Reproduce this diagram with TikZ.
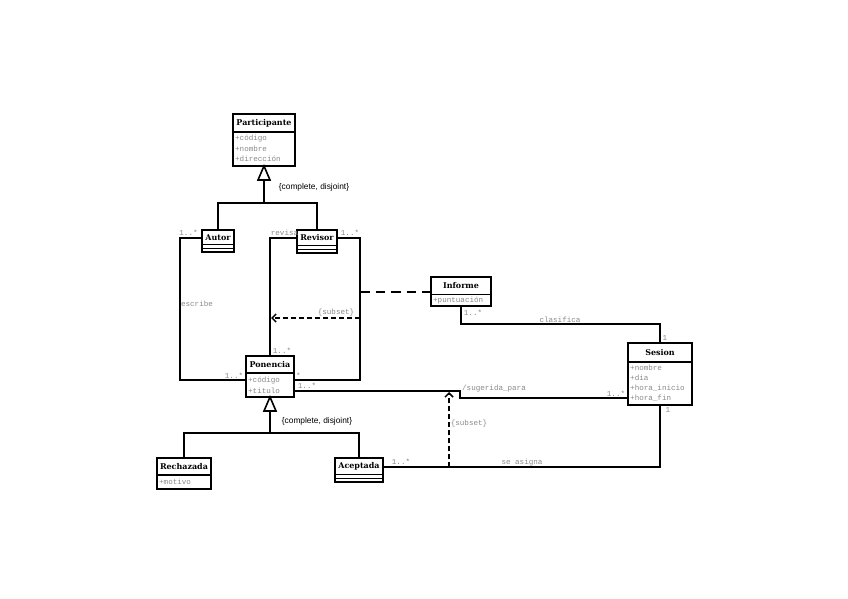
\documentclass[tikz,border=0pt]{standalone}
\usepackage{fontspec}
\setmainfont{DejaVu Serif}
\newfontfamily\monof{Liberation Mono}
\newfontfamily\sansf{Liberation Sans}
\usetikzlibrary{arrows.meta,calc}
\definecolor{txtgray}{HTML}{8A8A8A}
\begin{document}
\begin{tikzpicture}[x=1bp,y=-1bp,
  cls/.style={draw, line width=1.6bp, inner sep=0pt, outer sep=0pt, anchor=north west},
  ttl/.style={inner sep=0pt, font=\bfseries\fontsize{8}{9}\selectfont},
  attr/.style={inner sep=0pt, anchor=west, text=txtgray, font=\monof\fontsize{7.6}{8}\selectfont},
  lbl/.style={inner sep=0pt, text=txtgray, font=\monof\fontsize{7.6}{8}\selectfont},
  cdl/.style={inner sep=0pt, font=\sansf\fontsize{8.4}{9}\selectfont},
  sepl/.style={line width=1.2bp},
  ln/.style={line width=1.8bp},
  gentri/.style={line width=1.6bp, fill=white, line join=miter},
  dashl/.style={line width=1.8bp, dash pattern=on 9.5bp off 6bp},
  subarr/.style={line width=1.5bp, dash pattern=on 5bp off 3bp, -{Straight Barb[length=4bp,width=8bp]}}]
\useasboundingbox[fill=white] (0,0) rectangle (848,599);

% ---------- classes ----------
\node[cls, minimum width=62bp, minimum height=52bp] (participante) at (233,114) {};
\draw[sepl] (233,132) -- (295,132);
\node[ttl] (participante-t) at (264,123) {Participante};
\node[attr] (participante-a1) at (235,138.5) {+código};
\node[attr] (participante-a2) at (235,148.5) {+nombre};
\node[attr] (participante-a3) at (235,158.5) {+dirección};

\node[cls, minimum width=32bp, minimum height=22bp] (autor) at (202,230) {};
\draw[sepl] (202,244.5) -- (234,244.5);
\draw[sepl] (202,248.5) -- (234,248.5);
\node[ttl] (autor-t) at (218,237.5) {Autor};

\node[cls, minimum width=40bp, minimum height=23bp] (revisor) at (297,230) {};
\draw[sepl] (297,245.5) -- (337,245.5);
\draw[sepl] (297,249.5) -- (337,249.5);
\node[ttl] (revisor-t) at (317,238) {Revisor};

\node[cls, minimum width=48bp, minimum height=41bp] (ponencia) at (246,356) {};
\draw[sepl] (246,373) -- (294,373);
\node[ttl] (ponencia-t) at (270,365) {Ponencia};
\node[attr] (ponencia-a1) at (248,380.5) {+código};
\node[attr] (ponencia-a2) at (248,390.5) {+titulo};

\node[cls, minimum width=60bp, minimum height=29bp] (informe) at (431,277) {};
\draw[sepl] (431,294.5) -- (491,294.5);
\node[ttl] (informe-t) at (461,286) {Informe};
\node[attr] (informe-a1) at (433,300.5) {+puntuación};

\node[cls, minimum width=64bp, minimum height=62bp] (sesion) at (628,343) {};
\draw[sepl] (628,362) -- (692,362);
\node[ttl] (sesion-t) at (660,353) {Sesion};
\node[attr] (sesion-a1) at (630,368) {+nombre};
\node[attr] (sesion-a2) at (630,378) {+dia};
\node[attr] (sesion-a3) at (630,388) {+hora\_inicio};
\node[attr] (sesion-a4) at (630,398) {+hora\_fin};

\node[cls, minimum width=54bp, minimum height=31bp] (rechazada) at (157,458) {};
\draw[sepl] (157,475) -- (211,475);
\node[ttl] (rechazada-t) at (184,466.5) {Rechazada};
\node[attr] (rechazada-a1) at (159,482) {+motivo};

\node[cls, minimum width=48bp, minimum height=24bp] (aceptada) at (335,458) {};
\draw[sepl] (335,474.5) -- (383,474.5);
\draw[sepl] (335,478.5) -- (383,478.5);
\node[ttl] (aceptada-t) at (359,466.5) {Aceptada};

% ---------- generalizations ----------
\coordinate (gen1) at (264,203);
\draw[ln] (gen1) -- (participante.south);
\draw[gentri] (participante.south) -- ++(6,14) -- ++(-12,0) -- cycle;
\draw[ln] (autor.north) -- (autor.north |- gen1) -- (revisor.north |- gen1) -- (revisor.north);
\node[cdl] (cd1) at (314,187.5) {\{complete, disjoint\}};

\coordinate (gen2) at (270,433);
\draw[ln] (gen2) -- (ponencia.south);
\draw[gentri] (ponencia.south) -- ++(6,14) -- ++(-12,0) -- cycle;
\draw[ln] (rechazada.north) -- (rechazada.north |- gen2) -- (aceptada.north |- gen2) -- (aceptada.north);
\node[cdl] (cd2) at (317,421.5) {\{complete, disjoint\}};

% ---------- associations ----------
% escribe
\draw[ln] (autor.west |- 0,238) -- (180,238) -- (180,380) -- (ponencia.west |- 0,380);
\node[lbl] (l-esc) at (197,303.5) {escribe};
\node[lbl] (l-esc1) at (188.5,233) {1..*};
\node[lbl] (l-esc2) at (234,375.5) {1..*};

% revisa
\draw[ln] (revisor.west |- 0,238) -- (270,238) -- (ponencia.north);
\node[lbl] (l-rev) at (284.5,233) {revisa};
\node[lbl] (l-rev2) at (282,351) {1..*};

% revisor -- ponencia (right)
\draw[ln] (revisor.east |- 0,238) -- (360,238) -- (360,380) -- (ponencia.east |- 0,380);
\node[lbl] (l-rr1) at (350,233) {1..*};
\node[lbl] (l-rr2) at (298.5,376) {*};

% informe association class
\coordinate (revassoc) at (360,292);
\draw[dashl] (revassoc) -- (informe.west |- 0,292);

% subset 1
\coordinate (sub1s) at (360,318);
\coordinate (sub1e) at (271,318);
\draw[subarr] (sub1s) -- (sub1e);
\node[lbl] (l-sub1) at (336,313) {\{subset\}};

% clasifica
\draw[ln] (informe.south) -- (461,324) -- (660,324) -- (sesion.north);
\node[lbl] (l-cl1) at (473,312.5) {1..*};
\node[lbl] (l-cl) at (560,320) {clasifica};
\node[lbl] (l-cl2) at (665,338) {1};

% sugerida_para
\draw[ln] (ponencia.east |- 0,391) -- (460,391) -- (460,398) -- (sesion.west |- 0,398);
\node[lbl] (l-sp1) at (307,385.5) {1..*};
\node[lbl, anchor=west] (l-sp) at (462,389) {/sugerida\_para};
\node[lbl] (l-sp2) at (616,393.5) {1..*};

% subset 2
\coordinate (sub2s) at (449,467);
\coordinate (sub2e) at (449,392);
\draw[subarr] (sub2s) -- (sub2e);
\node[lbl] (l-sub2) at (469,423.5) {\{subset\}};

% se asigna
\draw[ln] (aceptada.east |- 0,467) -- (660,467) -- (sesion.south);
\node[lbl] (l-sa1) at (401,462) {1..*};
\node[lbl] (l-sa) at (522,462.5) {se asigna};
\node[lbl] (l-sa2) at (668,410) {1};
\end{tikzpicture}
\end{document}
